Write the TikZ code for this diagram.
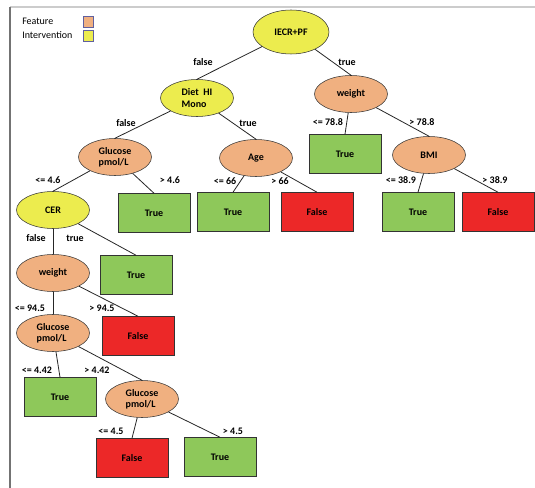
\documentclass[tikz,border=0pt]{standalone}
\usepackage{fontspec}
\setmainfont{Carlito}
\usetikzlibrary{shapes.geometric}
\definecolor{featorange}{RGB}{240,176,128}
\definecolor{intyellow}{RGB}{236,236,78}
\definecolor{leafgreen}{RGB}{142,200,90}
\definecolor{leafred}{RGB}{236,40,40}
\newcommand{\treefont}{\fontsize{7.5}{8.5}\selectfont}
\tikzstyle{feature} = [ellipse, draw=black!80, fill=featorange, minimum width=54.75pt, minimum height=27.75pt, inner sep=0pt, font=\treefont\bfseries, align=left]
\tikzstyle{interv} = [feature, fill=intyellow]
\tikzstyle{leaftrue} = [rectangle, draw=black!80, fill=leafgreen, minimum width=54pt, minimum height=29.25pt, font=\treefont\bfseries]
\tikzstyle{leaffalse} = [leaftrue, fill=leafred]
\tikzstyle{lbl} = [font=\treefont\bfseries, inner sep=1pt]
\tikzstyle{edge} = [draw=black!85, line width=0.6pt]

\begin{document}
\begin{tikzpicture}[x=0.75pt, y=-0.75pt, font=\treefont]
\useasboundingbox (0,0) rectangle (535,488);
\draw[black!20, line width=0.8pt] (10,7) -- (535,7);
\draw[black!55, line width=0.8pt] (10,7) -- (10,488);

% legend
\node(legf)[anchor=west, inner sep=0pt] at (22,21) {Feature};
\node(legi)[anchor=west, inner sep=0pt] at (22,35) {Intervention};
\node(legfbox)[draw=blue!25!gray, fill=featorange, minimum width=7.5pt, minimum height=8pt, inner sep=0pt] at (88,22) {};
\node(legibox)[draw=blue!25!gray, fill=intyellow, minimum width=7.5pt, minimum height=8pt, inner sep=0pt] at (88,36) {};

% tree
\node(root)[interv, minimum width=57pt, minimum height=33pt] at (291,32) {IECR+PF};
\node(diet)[interv] at (197,98) {Diet\ \ HI\\Mono};
\node(wr)[feature] at (351,94) {weight};
\node(wrtrue)[leaftrue] at (345,154) {True};
\node(bmi)[feature] at (429,155) {BMI};
\node(bmitrue)[leaftrue] at (418,212) {True};
\node(bmifalse)[leaffalse] at (498,212) {False};
\node(age)[feature] at (256,158) {Age};
\node(agetrue)[leaftrue] at (233,212) {True};
\node(agefalse)[leaffalse] at (317,212) {False};
\node(glu1)[feature] at (115,157) {Glucose\\pmol/L};
\node(glu1true)[leaftrue] at (154,213) {True};
\node(cer)[interv] at (53,210) {CER};
\node(certrue)[leaftrue] at (136,275) {True};
\node(wl)[feature] at (53,273) {weight};
\node(wlfalse)[leaffalse] at (138,336) {False};
\node(glu2)[feature] at (53,333) {Glucose\\pmol/L};
\node(glu2true)[leaftrue] at (60,397) {True};
\node(glu3)[feature] at (142,399) {Glucose\\pmol/L};
\node(glu3false)[leaffalse] at (132,458) {False};
\node(glu3true)[leaftrue] at (220,457) {True};

\draw[edge] (root) -- (diet.north);
\draw[edge] (root) -- (wr.north);
\draw[edge] (wr) -- (wrtrue.north);
\draw[edge] (wr) -- (bmi.north);
\draw[edge] (bmi) -- (bmitrue.north);
\draw[edge] (bmi) -- (bmifalse.north);
\draw[edge] (diet) -- (glu1.north);
\draw[edge] (diet) -- (age.north);
\draw[edge] (age) -- (agetrue.north);
\draw[edge] (age) -- (agefalse.north);
\draw[edge] (glu1) -- (glu1true.north);
\draw[edge] (glu1) -- (cer.north);
\draw[edge] (cer) -- (wl);
\draw[edge] (cer) -- (certrue.north);
\draw[edge] (wl) -- (glu2);
\draw[edge] (wl) -- (wlfalse.north);
\draw[edge] (glu2) -- (glu2true.north);
\draw[edge] (glu2) -- (glu3.north);
\draw[edge] (glu3) -- (glu3false.north);
\draw[edge] (glu3) -- (glu3true.north);

% edge labels
\node(l1)[lbl] at (203,62) {false};
\node(l2)[lbl] at (347,62) {true};
\node(l3)[lbl] at (328,122) {<= 78.8};
\node(l4)[lbl] at (422,122) {> 78.8};
\node(l5)[lbl] at (401,180) {<= 38.9};
\node(l6)[lbl] at (495,180) {> 38.9};
\node(l7)[lbl] at (126,123) {false};
\node(l8)[lbl] at (248,123) {true};
\node(l9)[lbl] at (48,180) {<= 4.6};
\node(l10)[lbl] at (170,180) {> 4.6};
\node(l11)[lbl] at (225,181) {<= 66};
\node(l12)[lbl] at (280,181) {> 66};
\node(l13)[lbl] at (36,238) {false};
\node(l14)[lbl] at (75,238) {true};
\node(l15)[lbl] at (30,308) {<= 94.5};
\node(l16)[lbl] at (102,308) {> 94.5};
\node(l17)[lbl] at (37,370) {<= 4.42};
\node(l18)[lbl] at (97,370) {> 4.42};
\node(l19)[lbl] at (111,431) {<= 4.5};
\node(l20)[lbl] at (233,431) {> 4.5};

\end{tikzpicture}
\end{document}
